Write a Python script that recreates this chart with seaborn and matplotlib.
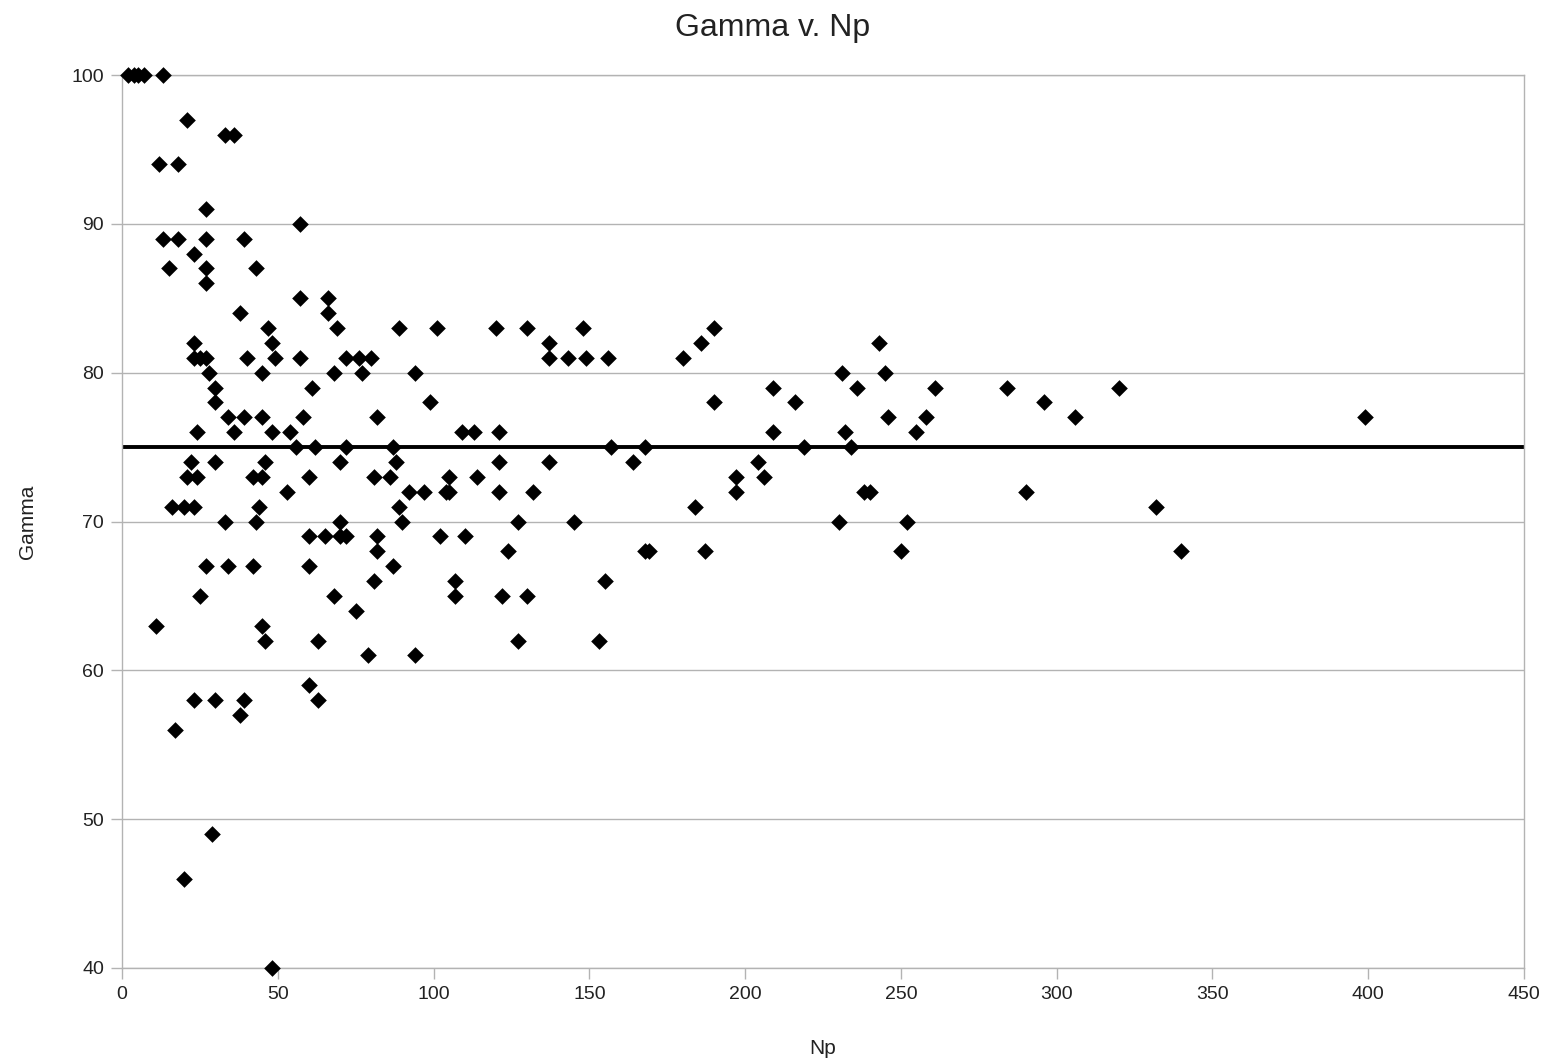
import matplotlib
matplotlib.use("Agg")
import matplotlib.pyplot as plt
import seaborn as sns
import pandas as pd

np_values = [
    2, 4, 5, 7, 13,
    12, 18, 21, 33, 36,
    13, 18, 27, 57, 27, 39, 23,
    15, 27, 43, 27,
    57, 66, 38, 66,
    47, 69, 89, 101, 120, 130, 148, 190,
    23, 48, 137, 186, 243,
    23, 25, 27, 40, 49, 57, 72, 76, 80, 137, 143, 149, 156, 180,
    28, 45, 68, 77, 94, 231, 245,
    30, 61, 209, 236, 261, 284, 320,
    30, 99, 190, 216, 296,
    34, 39, 45, 58, 82, 246, 258, 306, 399,
    24, 36, 48, 54, 109, 113, 121, 209, 232, 255,
    56, 62, 72, 87, 157, 168, 219, 234,
    22, 46, 30, 70, 88, 121, 137, 164, 204,
    21, 24, 42, 45, 60, 81, 86, 105, 114, 197, 206,
    53, 92, 97, 104, 105, 121, 132, 197, 238, 240, 290,
    16, 20, 23, 44, 89, 184, 332,
    33, 43, 70, 90, 127, 145, 230, 252,
    60, 65, 70, 72, 82, 102, 110,
    82, 124, 168, 169, 187, 250, 340,
    27, 34, 42, 60, 87,
    81, 107, 155,
    25, 68, 107, 122, 130,
    75,
    11, 45,
    46, 63, 127, 153,
    79, 94,
    60,
    23, 30, 39, 63,
    38,
    17,
    29,
    20,
    48,
]
gamma_values = [
    100, 100, 100, 100, 100,
    94, 94, 97, 96, 96,
    89, 89, 91, 90, 89, 89, 88,
    87, 87, 87, 86,
    85, 85, 84, 84,
    83, 83, 83, 83, 83, 83, 83, 83,
    82, 82, 82, 82, 82,
    81, 81, 81, 81, 81, 81, 81, 81, 81, 81, 81, 81, 81, 81,
    80, 80, 80, 80, 80, 80, 80,
    79, 79, 79, 79, 79, 79, 79,
    78, 78, 78, 78, 78,
    77, 77, 77, 77, 77, 77, 77, 77, 77,
    76, 76, 76, 76, 76, 76, 76, 76, 76, 76,
    75, 75, 75, 75, 75, 75, 75, 75,
    74, 74, 74, 74, 74, 74, 74, 74, 74,
    73, 73, 73, 73, 73, 73, 73, 73, 73, 73, 73,
    72, 72, 72, 72, 72, 72, 72, 72, 72, 72, 72,
    71, 71, 71, 71, 71, 71, 71,
    70, 70, 70, 70, 70, 70, 70, 70,
    69, 69, 69, 69, 69, 69, 69,
    68, 68, 68, 68, 68, 68, 68,
    67, 67, 67, 67, 67,
    66, 66, 66,
    65, 65, 65, 65, 65,
    64,
    63, 63,
    62, 62, 62, 62,
    61, 61,
    59,
    58, 58, 58, 58,
    57,
    56,
    49,
    46,
    40,
]
mean_line_x = [0, 450]
mean_line_y = [75, 75]
x_ticks = [0, 50, 100, 150, 200, 250, 300, 350, 400, 450]
y_ticks = [40, 50, 60, 70, 80, 90, 100]

df = pd.DataFrame({"Np": np_values, "Gamma": gamma_values})
line_df = pd.DataFrame({"Np": mean_line_x, "Gamma": mean_line_y})

sns.set_theme(style="white")
plt.rcParams["font.family"] = ["Liberation Sans", "DejaVu Sans"]
text_color = "#222222"
grid_color = "#b3b3b3"

fig = plt.figure(figsize=(15.45, 10.63), dpi=100)
ax = fig.add_axes([122 / 1545, 1 - 968 / 1063, (1524 - 122) / 1545, (968 - 75) / 1063])

sns.lineplot(data=line_df, x="Np", y="Gamma", ax=ax, color="black", linewidth=2.8, zorder=2)
sns.scatterplot(data=df, x="Np", y="Gamma", ax=ax, marker="D", s=72, color="black",
                edgecolor="black", linewidth=0, zorder=3, clip_on=False)

ax.set_xlim(0, 450)
ax.set_ylim(40, 100)
ax.set_xticks(x_ticks)
ax.set_yticks(y_ticks)
ax.yaxis.grid(True, color=grid_color, linewidth=1)
ax.xaxis.grid(False)
ax.set_axisbelow(True)
for sp in ax.spines.values():
    sp.set_color(grid_color)
    sp.set_linewidth(1)
    sp.set_visible(True)
ax.tick_params(axis="both", which="major", direction="out", length=8, width=1,
               bottom=True, left=True, top=False, right=False,
               color=grid_color, labelsize=14, labelcolor=text_color, pad=5)
ax.set_xlabel("Np", fontsize=15, color=text_color, labelpad=26)
ax.set_ylabel("Gamma", fontsize=15, color=text_color, labelpad=25)
fig.suptitle("Gamma v. Np", fontsize=23, color=text_color, y=0.988)

fig.savefig("out.png", dpi=100)
